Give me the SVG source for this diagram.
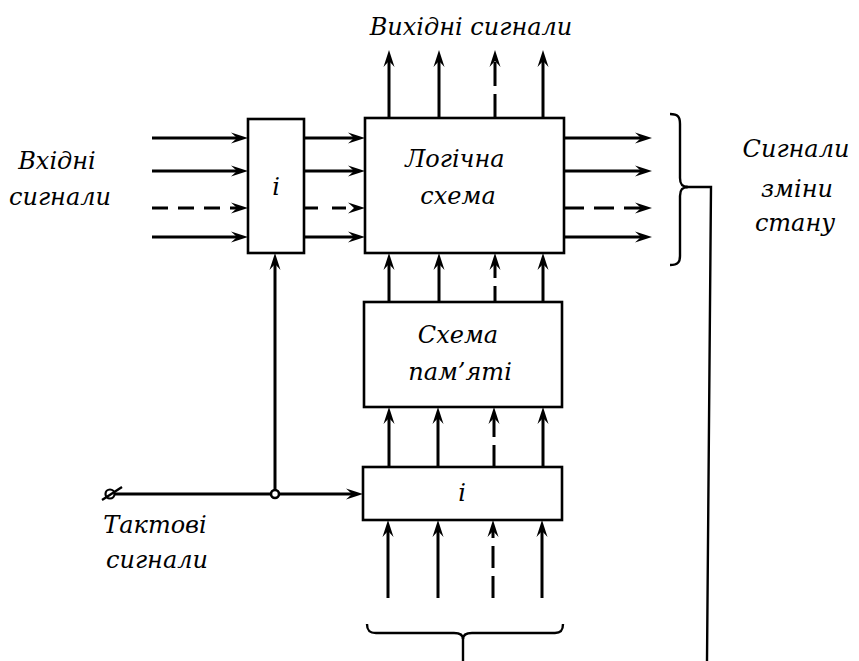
<svg xmlns="http://www.w3.org/2000/svg" width="859" height="661" viewBox="0 0 859 661">
<style>
.box{fill:#fff;stroke:#000;stroke-width:2.6}
.ar{fill:none;stroke:#000;stroke-width:3;marker-end:url(#ah)}
.ln{fill:none;stroke:#000;stroke-width:2.4}
.t{font-family:'DejaVu Serif','Liberation Serif',serif;font-style:italic;font-size:24px;fill:#000;text-anchor:middle}
</style>
<defs>
<marker id="ah" viewBox="-12 -6 19 12" refX="0" refY="0" markerWidth="19" markerHeight="12" orient="auto" markerUnits="userSpaceOnUse">
<path d="M6,0 L-11,-5.5 L-5,0 L-11,5.5 Z" fill="#000"/>
</marker>
</defs>
<rect width="859" height="661" fill="#fff"/>

<g id="connectors">
<line class="ar" x1="152" y1="138" x2="242" y2="138"/>
<line class="ar" x1="152" y1="171" x2="242" y2="171"/>
<line class="ar" x1="152" y1="208" x2="242" y2="208" stroke-dasharray="16 10"/>
<line class="ar" x1="152" y1="237" x2="242" y2="237"/>
<line class="ar" x1="304" y1="138" x2="359" y2="138"/>
<line class="ar" x1="304" y1="171" x2="359" y2="171"/>
<line class="ar" x1="304" y1="208" x2="359" y2="208" stroke-dasharray="14 14"/>
<line class="ar" x1="304" y1="237" x2="359" y2="237"/>
<line class="ar" x1="564" y1="138" x2="646" y2="138"/>
<line class="ar" x1="564" y1="171" x2="646" y2="171"/>
<line class="ar" x1="564" y1="208" x2="646" y2="208" stroke-dasharray="20 10"/>
<line class="ar" x1="564" y1="237" x2="646" y2="237"/>
<line class="ar" x1="389" y1="118" x2="389" y2="56"/>
<line class="ar" x1="439" y1="118" x2="439" y2="56"/>
<line class="ar" x1="495" y1="118" x2="495" y2="56" stroke-dasharray="24 8"/>
<line class="ar" x1="543" y1="118" x2="543" y2="56"/>
<line class="ar" x1="389" y1="302" x2="389" y2="259"/>
<line class="ar" x1="439" y1="302" x2="439" y2="259"/>
<line class="ar" x1="495" y1="302" x2="495" y2="259" stroke-dasharray="16 8"/>
<line class="ar" x1="543" y1="302" x2="543" y2="259"/>
<line class="ar" x1="389" y1="467" x2="389" y2="413"/>
<line class="ar" x1="438" y1="467" x2="438" y2="413"/>
<line class="ar" x1="494" y1="467" x2="494" y2="413" stroke-dasharray="22 8"/>
<line class="ar" x1="543" y1="467" x2="543" y2="413"/>
<line class="ar" x1="388" y1="598" x2="388" y2="526"/>
<line class="ar" x1="438" y1="598" x2="438" y2="526"/>
<line class="ar" x1="493" y1="598" x2="493" y2="526" stroke-dasharray="22 8"/>
<line class="ar" x1="542" y1="598" x2="542" y2="526"/>
<line class="ar" x1="114" y1="494" x2="357" y2="494"/>
<line class="ar" x1="275" y1="494" x2="275" y2="259"/>
<circle cx="275" cy="494" r="4" fill="#fff" stroke="#000" stroke-width="2.6"/>
<circle cx="110" cy="494" r="4.5" fill="#fff" stroke="#000" stroke-width="2.2"/>
<line class="ln" x1="102" y1="500" x2="122" y2="487"/>
<path class="ln" d="M670,114 C678,114 680,117 680,124 L680,178 C680,184 682,187 688,187 C682,187 680,190 680,196 L680,256 C680,262 678,265 670,265"/>
<polyline class="ln" points="686,187 711,187 707,661"/>
<path class="ln" d="M367,624 C367,630 369,633 376,633 L454,633 C460,633 463,635 463,639 C463,635 466,633 472,633 L555,633 C561,633 563,630 563,624"/>
<line class="ln" x1="463" y1="638" x2="463" y2="661"/>
</g>

<g id="node-i1">
<rect class="box" x="248" y="119" width="56" height="134"/>
<text class="t" x="276" y="195">i</text>
</g>
<g id="node-logic">
<rect class="box" x="365" y="118" width="199" height="135"/>
<text class="t" x="455" y="167">Логічна</text>
<text class="t" x="458" y="204">схема</text>
</g>
<g id="node-memory">
<rect class="box" x="364" y="302" width="198" height="105"/>
<text class="t" x="458" y="343">Схема</text>
<text class="t" x="460" y="380">пам’яті</text>
</g>
<g id="node-i2">
<rect class="box" x="363" y="467" width="199" height="53"/>
<text class="t" x="462" y="501">i</text>
</g>
<g id="labels">
<text class="t" x="471" y="35">Вихідні сигнали</text>
<text class="t" x="57" y="169">Вхідні</text>
<text class="t" x="60" y="205">сигнали</text>
<text class="t" x="796" y="157">Сигнали</text>
<text class="t" x="797" y="197">зміни</text>
<text class="t" x="795" y="231">стану</text>
<text class="t" x="155" y="533">Тактові</text>
<text class="t" x="157" y="568">сигнали</text>
</g>
</svg>
